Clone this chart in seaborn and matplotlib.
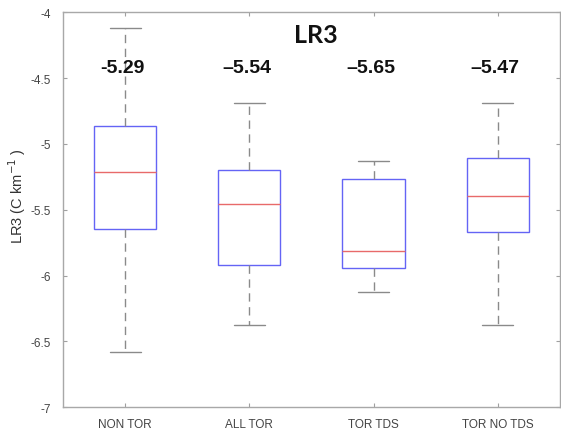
import matplotlib
matplotlib.use("Agg")
import matplotlib.pyplot as plt
import seaborn as sns
import pandas as pd

# five-number summaries: min, q1, median, q3, max
groups = ["NON TOR", "ALL TOR", "TOR TDS", "TOR NO TDS"]
non_tor = [-6.58, -5.648, -5.215, -4.866, -4.12]
all_tor = [-6.377, -5.921, -5.458, -5.20, -4.691]
tor_tds = [-6.126, -5.944, -5.815, -5.268, -5.131]
tor_no_tds = [-6.377, -5.670, -5.397, -5.109, -4.691]
mean_labels = ["-5.29", "\u20135.54", "\u20135.65", "\u20135.47"]
yticks = [-7, -6.5, -6, -5.5, -5, -4.5, -4]

rows = []
for g, vals in zip(groups, [non_tor, all_tor, tor_tds, tor_no_tds]):
    for v in vals:
        rows.append({"group": g, "value": v})
df = pd.DataFrame(rows)

sns.set_style("white")
plt.rcParams["font.family"] = ["Liberation Sans", "DejaVu Sans"]

fig = plt.figure(figsize=(5.61, 4.31), dpi=100)
ax = fig.add_axes([0.1123, 0.0527, 0.8857, 0.9164])

sns.boxplot(data=df, x="group", y="value", order=groups, width=0.5,
            whis=(0, 100), showfliers=False, ax=ax,
            boxprops=dict(facecolor="white", edgecolor="#6464f5", linewidth=1.0),
            medianprops=dict(color="#e86a6a", linewidth=1.0),
            whiskerprops=dict(color="#8a8a8a", linewidth=1.0, linestyle=(0, (6, 4))),
            capprops=dict(color="#8a8a8a", linewidth=1.0))

ax.set_xlim(-0.5, 3.5)
ax.set_ylim(-7, -4)
ax.set_yticks(yticks)
ax.set_yticklabels([f"{t:g}" for t in yticks])
ax.set_xlabel("")
ax.set_ylabel("LR3 (C km$^{-1}$ )", fontsize=10.5, color="#333333")
ax.yaxis.set_label_coords(-0.07, 0.537)

for s in ax.spines.values():
    s.set_color("#a8a8a8")
    s.set_linewidth(1.0)
ax.tick_params(direction="in", length=3, width=0.8, color="#a0a0a0", labelsize=8.5,
               labelcolor="#444444", bottom=True, left=True, top=True, right=True)
ax.tick_params(axis="x", pad=8)
ax.tick_params(axis="y", pad=9)

for i, lab in enumerate(mean_labels):
    ax.text(i - 0.02, -4.418, lab, ha="center", va="center", fontsize=14,
            fontweight="bold", color="#111111")

ax.text(0.508, 0.945, "LR3", transform=ax.transAxes, ha="center", va="center",
        fontsize=18, fontweight="bold", family=["Lato", "DejaVu Sans"], color="#111111")

fig.savefig("out.png", dpi=100)
